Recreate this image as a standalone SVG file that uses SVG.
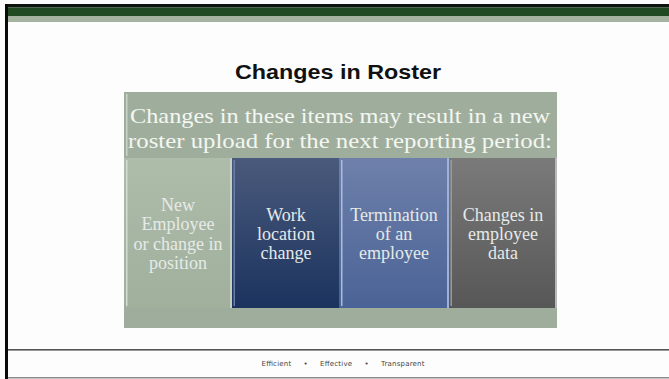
<svg xmlns="http://www.w3.org/2000/svg" width="669" height="379" viewBox="0 0 669 379">
  <defs>
    <linearGradient id="gNavy" x1="0" y1="0" x2="0" y2="1">
      <stop offset="0" stop-color="#4a5a7c"/>
      <stop offset="1" stop-color="#1b335e"/>
    </linearGradient>
    <linearGradient id="gBlue" x1="0" y1="0" x2="0" y2="1">
      <stop offset="0" stop-color="#6e80aa"/>
      <stop offset="1" stop-color="#4a6396"/>
    </linearGradient>
    <linearGradient id="gGray" x1="0" y1="0" x2="0" y2="1">
      <stop offset="0" stop-color="#7a7a7a"/>
      <stop offset="1" stop-color="#575757"/>
    </linearGradient>
    <linearGradient id="gSage" x1="0" y1="0" x2="0" y2="1">
      <stop offset="0" stop-color="#aebcaa"/>
      <stop offset="1" stop-color="#a0b09d"/>
    </linearGradient>
  </defs>
  <style>
    .cell { font-family: "Liberation Serif", "DejaVu Serif", serif; font-size: 18px; fill: #e6eae8; text-anchor: middle; }
    .head { font-family: "Liberation Serif", "DejaVu Serif", serif; font-size: 22px; fill: #f4f6f2; }
    .title { font-family: "Liberation Sans", Arial, sans-serif; font-size: 21px; font-weight: bold; fill: #111; text-anchor: middle; }
    .foot { font-family: "DejaVu Sans", sans-serif; font-size: 7px; fill: #444; }
  </style>

  <!-- slide background and frame -->
  <rect x="0" y="0" width="669" height="379" fill="#fdfdfd"/>
  <rect x="5" y="4" width="664" height="3.5" fill="#0d130d"/>
  <rect x="5" y="7.5" width="664" height="8.5" fill="#1f4a22"/>
  <rect x="5" y="16" width="664" height="6" fill="#a3b3a0"/>
  <rect x="5" y="4" width="3" height="375" fill="#0a0a0a"/>
  <rect x="8" y="349" width="661" height="1.6" fill="#555"/>
  <rect x="8" y="377" width="661" height="1.5" fill="#8a8a8a"/>

  <text class="title" x="338" y="79" textLength="206" lengthAdjust="spacingAndGlyphs">Changes in Roster</text>

  <!-- header box -->
  <g id="header">
    <rect x="124" y="92" width="433" height="236" fill="#9fae9c"/>
    <rect x="126" y="94" width="1.5" height="62" fill="#c9d3c6"/>
    <text class="head" x="340" y="123" text-anchor="middle" textLength="420" lengthAdjust="spacingAndGlyphs">Changes in these items may result in a new</text>
    <text class="head" x="340" y="148" text-anchor="middle" textLength="424" lengthAdjust="spacingAndGlyphs">roster upload for the next reporting period:</text>
  </g>

  <!-- item columns -->
  <g id="col-new-employee">
    <rect x="124" y="158" width="108" height="150" fill="url(#gSage)"/>
    <rect x="126" y="160" width="1.5" height="146" fill="#d3dccf"/>
    <rect x="230" y="158" width="2" height="150" fill="#c6d0c2"/>
    <text class="cell" x="178" y="211">New</text>
    <text class="cell" x="178" y="230">Employee</text>
    <text class="cell" x="178" y="250">or change in</text>
    <text class="cell" x="178" y="269">position</text>
  </g>
  <g id="col-work-location">
    <rect x="232" y="158" width="107" height="150" fill="url(#gNavy)"/>
    <rect x="233.5" y="160" width="1.5" height="146" fill="#6a7ea8"/>
    <text class="cell" x="286" y="221">Work</text>
    <text class="cell" x="286" y="240">location</text>
    <text class="cell" x="286" y="259">change</text>
  </g>
  <g id="col-termination">
    <rect x="339" y="158" width="110" height="150" fill="url(#gBlue)"/>
    <rect x="341" y="160" width="1.5" height="146" fill="#a8bde0"/>
    <rect x="447" y="158" width="2" height="150" fill="#9cb2d8"/>
    <text class="cell" x="394" y="221">Termination</text>
    <text class="cell" x="394" y="240">of  an</text>
    <text class="cell" x="394" y="259">employee</text>
  </g>
  <g id="col-employee-data">
    <rect x="449" y="158" width="108" height="150" fill="url(#gGray)"/>
    <rect x="450.5" y="160" width="1.5" height="146" fill="#999"/>
    <rect x="555" y="158" width="2" height="150" fill="#b8b8b8"/>
    <text class="cell" x="503" y="221">Changes in</text>
    <text class="cell" x="503" y="240">employee</text>
    <text class="cell" x="503" y="259">data</text>
  </g>

  <!-- footer -->
  <text class="foot" x="343" y="366" text-anchor="middle" textLength="163" lengthAdjust="spacing" xml:space="preserve">Efficient     •     Effective     •     Transparent</text>
</svg>
